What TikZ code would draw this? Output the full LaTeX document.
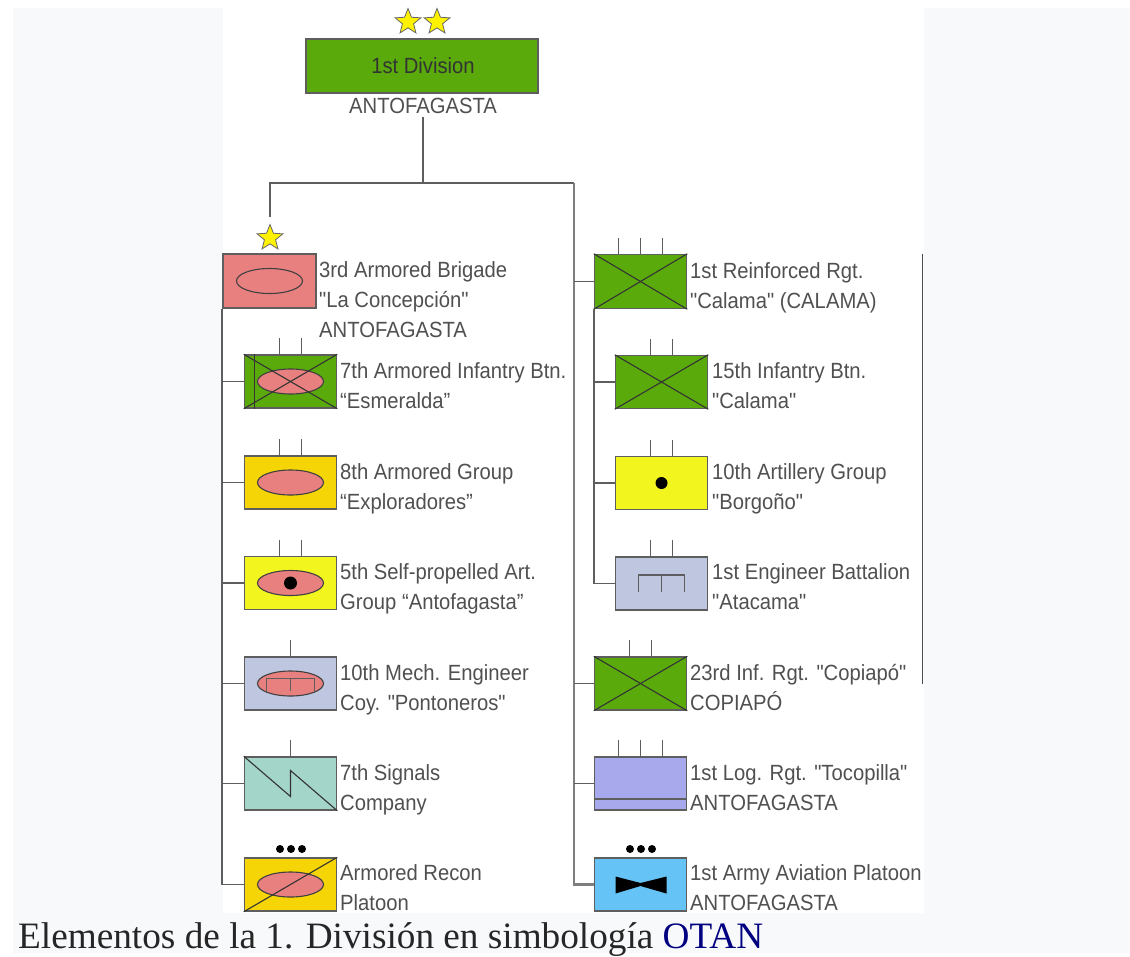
\documentclass[tikz,border=0pt]{standalone}
\usepackage{fontspec}
\setmainfont{Liberation Serif}
\newfontfamily\unitfont{Liberation Sans}
\usetikzlibrary{shapes.geometric}
\definecolor{pagebg}{HTML}{F8F9FA}
\definecolor{linegray}{HTML}{5E5E5E}
\definecolor{labelgray}{HTML}{505050}
\definecolor{infgreen}{HTML}{5AAA0C}
\definecolor{armorred}{HTML}{E98080}
\definecolor{recongold}{HTML}{F5D506}
\definecolor{artyellow}{HTML}{F2F51E}
\definecolor{engblue}{HTML}{BFC6E0}
\definecolor{sigteal}{HTML}{A3D5C8}
\definecolor{logviolet}{HTML}{A8A8EC}
\definecolor{avnblue}{HTML}{66C3F5}
\begin{document}
\begin{tikzpicture}[x=1pt,y=-1pt,
    unit/.style ={rectangle, draw=linegray, line width=1.5pt, inner sep=0pt, minimum width=92pt, minimum height=53pt},
    armor/.style ={ellipse, draw=black!75, fill=armorred, line width=1.1pt, inner sep=0pt, minimum width=66pt, minimum height=25pt},
    blackdot/.style ={circle, fill=black, inner sep=0pt, minimum size=#1},
    rank/.style ={star, star points=5, star point ratio=2.3, draw=black!60, fill=yellow, line width=0.8pt, inner sep=0pt, minimum size=27pt},
    unittext/.style ={anchor=north west, align=left, inner sep=0pt, font=\unitfont\fontsize{22}{30}\selectfont, text=labelgray, xscale=0.92},
    conn/.style ={draw=linegray, line width=1.7pt},
    trunk/.style ={draw=linegray!80, line width=2.4pt},
    tick/.style ={draw=linegray, line width=1.3pt},
    sign/.style ={draw=black!80, line width=1.1pt}]
   % sheet and picture area
   \fill[white] (0,0) rectangle (1130,953);
   \fill[pagebg] (13,8) rectangle (1130,953);
   \fill[white] (223,8) rectangle (924,912.5);

   % division
   \node[unit, fill=infgreen, minimum width=232pt, minimum height=54pt] (div) at (422,66) {};
   \node[rank] (star1) at (408,22) {};
   \node[rank] (star2) at (437,22) {};
   \node[anchor=center, inner sep=0pt, font=\unitfont\fontsize{22}{30}\selectfont, text=black!80, xscale=0.92] (divname) at (423,66) {1st Division};
   \node[anchor=center, inner sep=0pt, font=\unitfont\fontsize{22}{30}\selectfont, text=labelgray, xscale=0.92] (divcity) at (423,106) {ANTOFAGASTA};
   \coordinate (J) at (423,183);
   \coordinate (JL) at (270,183);
   \coordinate (JR) at (574,183);
   \coordinate (JS) at (270,217);
   \coordinate (JT) at (423,117);
   \draw[conn] (JT) -- (J);
   \draw[conn] (JS) -- (JL) -- (JR);

   % left column
   \node[unit, fill=armorred, minimum width=93pt, minimum height=54pt] (bde) at (269.5,281) {};
   \node[rank] (star3) at (270,238) {};
   \node[armor, fill=none] (bdesign) at (bde) {};
   \node[unit, fill=infgreen] (esm) at (290.5,381.5) {};
   \node[unit, fill=recongold] (exp) at (290.5,482.5) {};
   \node[unit, fill=artyellow] (ant) at (290.5,583) {};
   \node[unit, fill=engblue] (pon) at (290.5,683.5) {};
   \node[unit, fill=sigteal] (sig) at (290.5,783.5) {};
   \node[unit, fill=recongold] (rec) at (290.5,884.5) {};
   \node[armor] (esmsign) at (esm) {};
   \node[armor] (expsign) at (exp) {};
   \node[armor] (antsign) at (ant) {};
   \node[armor] (ponsign) at (pon) {};
   \node[armor] (recsign) at (rec) {};
   \node[blackdot=13pt] (antdot) at (ant) {};
   \draw[sign] (esm.north west) -- (esm.south east);
   \draw[sign] (esm.south west) -- (esm.north east);
   \draw[sign] ([xshift=11pt]esm.north west) -- ([xshift=11pt]esm.south west);
   \draw[sign, draw=linegray] ([shift={(-24,7)}]pon.center) -- ([shift={(-24,-5)}]pon.center) -- ([shift={(24,-5)}]pon.center) -- ([shift={(24,7)}]pon.center);
   \draw[sign, draw=linegray] ([shift={(0,-5)}]pon.center) -- ([shift={(0,7)}]pon.center);
   \draw[sign] (sig.north west) -- ([shift={(0,13)}]sig.center) -- ([shift={(0,-13)}]sig.center) -- (sig.south east);
   \draw[sign] (rec.south west) -- (rec.north east);

   \draw[conn] (bde.south west) |- (rec.west);
   \draw[conn] (bde.south west |- esm.west) -- (esm.west);
   \draw[conn] (bde.south west |- exp.west) -- (exp.west);
   \draw[conn] (bde.south west |- ant.west) -- (ant.west);
   \draw[conn] (bde.south west |- pon.west) -- (pon.west);
   \draw[conn] (bde.south west |- sig.west) -- (sig.west);

   \draw[tick] ([xshift=-11pt]esm.north) -- ++(0,-16);
   \draw[tick] ([xshift=11pt]esm.north) -- ++(0,-16);
   \draw[tick] ([xshift=-11pt]exp.north) -- ++(0,-16);
   \draw[tick] ([xshift=11pt]exp.north) -- ++(0,-16);
   \draw[tick] ([xshift=-11pt]ant.north) -- ++(0,-16);
   \draw[tick] ([xshift=11pt]ant.north) -- ++(0,-16);
   \draw[tick] (pon.north) -- ++(0,-16);
   \draw[tick] (sig.north) -- ++(0,-16);
   \node[blackdot=8pt] (recdot1) at (280,849) {};
   \node[blackdot=8pt] (recdot2) at (291,849) {};
   \node[blackdot=8pt] (recdot3) at (302,849) {};

   \node[unittext] (bdetext) at (319,261) {3rd Armored Brigade\\"La Concepción"\\ANTOFAGASTA};
   \node[unittext] (esmtext) at (340,362) {7th Armored Infantry Btn.\\“Esmeralda”};
   \node[unittext] (exptext) at (340,463) {8th Armored Group\\“Exploradores”};
   \node[unittext] (anttext) at (340,563) {5th Self-propelled Art.\\Group “Antofagasta”};
   \node[unittext] (pontext) at (340,664) {10th Mech. Engineer\\Coy. "Pontoneros"};
   \node[unittext] (sigtext) at (340,764) {7th Signals\\Company};
   \node[unittext] (rectext) at (340,864) {Armored Recon\\Platoon};

   % right column
   \node[unit, fill=infgreen, minimum height=54pt] (cal) at (640.5,281.5) {};
   \node[unit, fill=infgreen] (inf) at (661.5,382) {};
   \node[unit, fill=artyellow] (bor) at (661.5,483) {};
   \node[unit, fill=engblue] (ata) at (661.5,583.5) {};
   \node[unit, fill=infgreen] (cop) at (640.5,683.5) {};
   \node[unit, fill=logviolet] (toc) at (640.5,783.5) {};
   \node[unit, fill=avnblue] (avn) at (640.5,884.5) {};
   \draw[sign] (cal.north west) -- (cal.south east);
   \draw[sign] (cal.south west) -- (cal.north east);
   \draw[sign] (inf.north west) -- (inf.south east);
   \draw[sign] (inf.south west) -- (inf.north east);
   \draw[sign] (cop.north west) -- (cop.south east);
   \draw[sign] (cop.south west) -- (cop.north east);
   \node[blackdot=12pt] (bordot) at (bor) {};
   \draw[sign, draw=linegray, line width=1.4pt] ([shift={(-23,8.5)}]ata.center) -- ([shift={(-23,-8.5)}]ata.center) -- ([shift={(23,-8.5)}]ata.center) -- ([shift={(23,8.5)}]ata.center);
   \draw[sign, draw=linegray, line width=1.4pt] ([shift={(0,-8.5)}]ata.center) -- ([shift={(0,8.5)}]ata.center);
   \draw[draw=linegray, line width=2pt] ([shift={(0,-12)}]toc.south west) -- ([shift={(0,-12)}]toc.south east);
   \fill[black] ([shift={(-25,-8)}]avn.center) -- ([shift={(0,-1.5)}]avn.center) -- ([shift={(26,-8)}]avn.center) -- ([shift={(26,9)}]avn.center) -- ([shift={(0,1.5)}]avn.center) -- ([shift={(-25,9)}]avn.center) -- cycle;

   \draw[trunk] (JR) |- (avn.west);
   \draw[conn] (JR |- cal.west) -- (cal.west);
   \draw[conn] (JR |- cop.west) -- (cop.west);
   \draw[conn] (JR |- toc.west) -- (toc.west);
   \draw[conn] (cal.south west) |- (ata.west);
   \draw[conn] (cal.south west |- inf.west) -- (inf.west);
   \draw[conn] (cal.south west |- bor.west) -- (bor.west);

   \draw[tick] ([xshift=-22pt]cal.north) -- ++(0,-16);
   \draw[tick] (cal.north) -- ++(0,-16);
   \draw[tick] ([xshift=22pt]cal.north) -- ++(0,-16);
   \draw[tick] ([xshift=-11pt]inf.north) -- ++(0,-16);
   \draw[tick] ([xshift=11pt]inf.north) -- ++(0,-16);
   \draw[tick] ([xshift=-11pt]bor.north) -- ++(0,-16);
   \draw[tick] ([xshift=11pt]bor.north) -- ++(0,-16);
   \draw[tick] ([xshift=-11pt]ata.north) -- ++(0,-16);
   \draw[tick] ([xshift=11pt]ata.north) -- ++(0,-16);
   \draw[tick] ([xshift=-11pt]cop.north) -- ++(0,-16);
   \draw[tick] ([xshift=11pt]cop.north) -- ++(0,-16);
   \draw[tick] ([xshift=-22pt]toc.north) -- ++(0,-16);
   \draw[tick] (toc.north) -- ++(0,-16);
   \draw[tick] ([xshift=22pt]toc.north) -- ++(0,-16);
   \node[blackdot=8pt] (avndot1) at (630,849) {};
   \node[blackdot=8pt] (avndot2) at (641,849) {};
   \node[blackdot=8pt] (avndot3) at (652,849) {};

   \node[unittext] (caltext) at (690,262) {1st Reinforced Rgt.\\"Calama" (CALAMA)};
   \node[unittext] (inftext) at (712,362) {15th Infantry Btn.\\"Calama"};
   \node[unittext] (bortext) at (712,463) {10th Artillery Group\\"Borgoño"};
   \node[unittext] (atatext) at (712,563) {1st Engineer Battalion\\"Atacama"};
   \node[unittext] (coptext) at (690,664) {23rd Inf. Rgt. "Copiapó"\\COPIAPÓ};
   \node[unittext] (toctext) at (690,764) {1st Log. Rgt. "Tocopilla"\\ANTOFAGASTA};
   \node[unittext] (avntext) at (690,864) {1st Army Aviation Platoon\\ANTOFAGASTA};

   % edge line at the right of the picture
   \coordinate (E1) at (922.5,254);
   \coordinate (E2) at (922.5,684);
   \draw[conn, draw=black!70] (E1) -- (E2);

   \node[anchor=base west, inner sep=0pt, font=\fontsize{37.25}{37}\selectfont, text=black!85] (caption) at (18,948) {Elementos de la 1. División en simbología \textcolor[HTML]{000080}{OTAN}};
\end{tikzpicture}
\end{document}
